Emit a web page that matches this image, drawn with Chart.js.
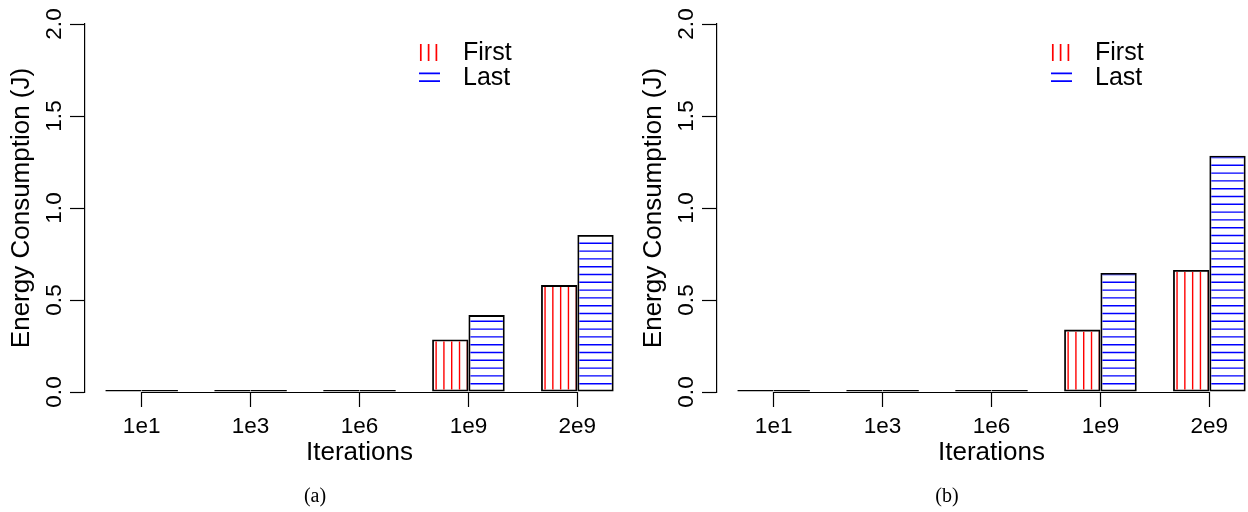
<!DOCTYPE html>
<html><head><meta charset="utf-8">
<script src="https://cdn.jsdelivr.net/npm/chart.js@4.4.1/dist/chart.umd.min.js"></script>
<style>
html,body{margin:0;padding:0;background:#fff;overflow:hidden;width:1248px;height:512px;}
#wrap{position:relative;width:1248px;height:512px;overflow:hidden;background:#fff;}
canvas{position:absolute;top:0;}
#ca{left:0px}
#cb{left:632px}
.cap{position:absolute;font-family:"Liberation Serif","Times New Roman",serif;font-size:20px;line-height:20px;top:485px;transform:translateX(-50%);color:#000;}
</style></head><body>
<div id="wrap">
<canvas id="ca" width="640" height="512"></canvas>
<canvas id="cb" width="640" height="512"></canvas>
<div class="cap" style="left:315px">(a)</div>
<div class="cap" style="left:947px">(b)</div>
</div>
<script>
// ---- data ----
const categories = ["1e1", "1e3", "1e6", "1e9", "2e9"];
const seriesNames = ["First", "Last"];
const firstA = [0.001, 0.001, 0.002, 0.286, 0.581];
const lastA  = [0.001, 0.001, 0.003, 0.418, 0.853];
const firstB = [0.001, 0.001, 0.002, 0.339, 0.663];
const lastB  = [0.001, 0.001, 0.003, 0.647, 1.284];
const yTickValues = [0, 0.5, 1.0, 1.5, 2.0];
const xTitle = "Iterations";
const yTitle = "Energy Consumption (J)";

// ---- styling ----
const FAMILY = '"Liberation Sans", Arial, Helvetica, sans-serif';
const TICK_FS = 22.5;
const TITLE_FS = 26;
const LEGEND_FS = 25;
const SP = 7.8;   // hatch spacing
const BW = 1.8;   // bar border width
const HW = 1.4;   // hatch line width
Chart.defaults.font.family = FAMILY;
Chart.defaults.color = '#000';

const xShift = {
  id: 'xShift',
  afterLayout(chart) {
    const s = chart.scales.x;
    if (s && s._valueRange !== undefined) {
      s._startValue = -0.52;
      s._valueRange = categories.length + 0.04;
    }
  }
};

const hatch = {
  id: 'hatch',
  afterDatasetsDraw(chart) {
    const ctx = chart.ctx;
    chart.data.datasets.forEach((ds, di) => {
      const meta = chart.getDatasetMeta(di);
      meta.data.forEach(el => {
        const p = el.getProps(['x', 'y', 'base', 'width'], true);
        const L = p.x - p.width / 2, R = p.x + p.width / 2;
        const T = Math.min(p.y, p.base), B = Math.max(p.y, p.base);
        const l = L + BW, r = R - BW, t = T + BW, b = B - BW;
        if (r <= l || b <= t) return;
        ctx.save();
        ctx.beginPath(); ctx.rect(l, t, r - l, b - t); ctx.clip();
        ctx.strokeStyle = ds.hatchColor; ctx.lineWidth = HW;
        ctx.beginPath();
        if (ds.hatchDir === 'v') {
          for (let px = L + 4; px < r + 1; px += SP) { ctx.moveTo(px, t); ctx.lineTo(px, b); }
        } else {
          for (let py = B - SP; py > t - 1; py -= SP) { ctx.moveTo(l, py); ctx.lineTo(r, py); }
        }
        ctx.stroke();
        ctx.restore();
      });
    });
  }
};

const rDecor = {
  id: 'rDecor',
  afterDraw(chart) {
    const ctx = chart.ctx;
    const area = chart.chartArea;
    const xs = chart.scales.x;
    // R-style x axis line from first to last tick
    ctx.save();
    ctx.strokeStyle = '#000'; ctx.lineWidth = 1.2;
    const y0 = Math.round(area.bottom) + 0.5;
    ctx.beginPath();
    ctx.moveTo(xs.getPixelForTick(0), y0);
    ctx.lineTo(xs.getPixelForTick(categories.length - 1), y0);
    ctx.stroke();
    // legend
    const lx = area.left + 334, ly0 = 44;
    chart.data.datasets.forEach((ds, i) => {
      const top = ly0 + i * 25, w = 21, h = 17;
      ctx.save();
      ctx.beginPath(); ctx.rect(lx, top, w, h); ctx.clip();
      ctx.strokeStyle = ds.hatchColor; ctx.lineWidth = HW + 0.3;
      ctx.beginPath();
      if (ds.hatchDir === 'v') {
        for (let px = lx + 1.8; px < lx + w; px += SP) { ctx.moveTo(px, top); ctx.lineTo(px, top + h); }
      } else {
        for (let py = top + 4.3; py < top + h; py += SP) { ctx.moveTo(lx, py); ctx.lineTo(lx + w, py); }
      }
      ctx.stroke();
      ctx.restore();
      ctx.fillStyle = '#000';
      ctx.font = LEGEND_FS + 'px ' + FAMILY;
      ctx.textBaseline = 'middle';
      ctx.textAlign = 'left';
      ctx.fillText(ds.label, lx + 44, top + h / 2 + 1);
    });
    ctx.restore();
  }
};

function makeChart(id, firstVals, lastVals) {
  const barStyle = { backgroundColor: 'rgba(255,255,255,0)', borderColor: '#000', borderWidth: BW,
                     borderSkipped: false, minBarLength: 2 };
  return new Chart(document.getElementById(id), {
    type: 'bar',
    data: {
      labels: categories,
      datasets: [
        Object.assign({ label: seriesNames[0], data: firstVals, hatchColor: '#ff0000', hatchDir: 'v' }, barStyle),
        Object.assign({ label: seriesNames[1], data: lastVals, hatchColor: '#0000ff', hatchDir: 'h' }, barStyle)
      ]
    },
    options: {
      responsive: false,
      animation: false,
      events: [],
      layout: { padding: { top: 24, right: 6, left: 0, bottom: 0 } },
      datasets: { bar: { categoryPercentage: 2 / 3, barPercentage: 1 } },
      plugins: { legend: { display: false }, tooltip: { enabled: false } },
      scales: {
        x: {
          type: 'category',
          offset: true,
          grid: { display: true, drawOnChartArea: false, drawTicks: true, tickLength: 15, tickWidth: 1.2, color: '#000', offset: false },
          border: { display: false },
          ticks: { font: { size: TICK_FS, lineHeight: 1.2 }, padding: 6, color: '#000', maxRotation: 0, minRotation: 0, autoSkip: false },
          title: { display: true, text: xTitle, font: { size: TITLE_FS, lineHeight: 1 }, padding: { top: 0, bottom: 46 }, color: '#000' },
          afterFit(s) { s.height = 120; }
        },
        y: {
          min: 0, max: 2,
          afterBuildTicks(s) { s.ticks = yTickValues.map(v => ({ value: v })); },
          grid: { display: true, drawOnChartArea: false, drawTicks: true, tickLength: 15, tickWidth: 1.2, color: '#000' },
          border: { display: true, color: '#000', width: 1.2 },
          ticks: { font: { size: TICK_FS, lineHeight: 1.2 }, padding: 0, color: '#000', minRotation: 90, maxRotation: 90, crossAlign: 'center',
                   callback: v => Number(v).toFixed(1) },
          title: { display: true, text: yTitle, font: { size: TITLE_FS, lineHeight: 1 }, padding: { top: 9, bottom: 0 }, color: '#000' },
          afterFit(s) { s.width = 85; }
        }
      }
    },
    plugins: [xShift, hatch, rDecor]
  });
}

makeChart('ca', firstA, lastA);
makeChart('cb', firstB, lastB);
</script>
</body></html>
